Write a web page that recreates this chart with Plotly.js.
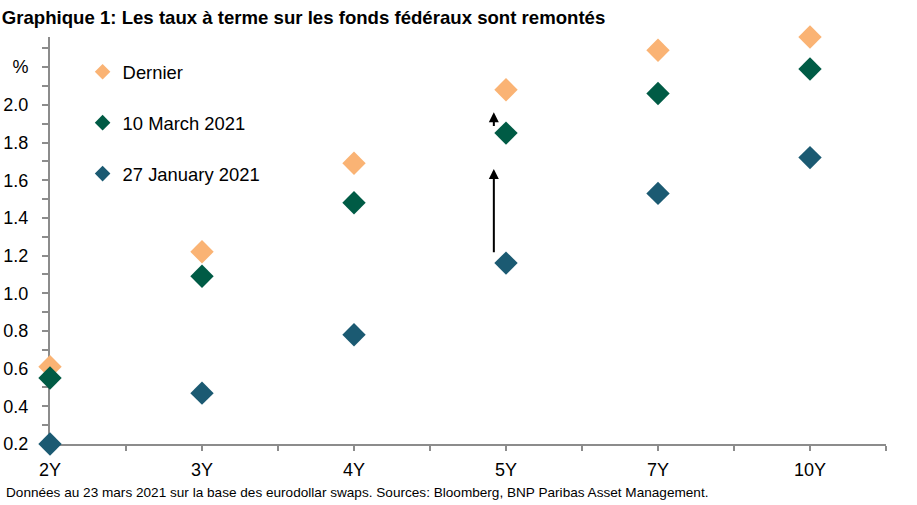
<!DOCTYPE html>
<html><head><meta charset="utf-8">
<script src="https://cdn.plot.ly/plotly-3.0.1.min.js"></script>
<style>body{margin:0;background:#fff;} #chart{width:917px;height:505px;}</style>
</head><body><div id="chart"></div>
<script>
const categories = ["2Y", "3Y", "4Y", "5Y", "7Y", "10Y"];
const seriesNames = ["Dernier", "10 March 2021", "27 January 2021"];
const dernier = [0.61, 1.22, 1.69, 2.08, 2.29, 2.36];
const march10 = [0.55, 1.09, 1.48, 1.85, 2.06, 2.19];
const jan27 = [0.20, 0.47, 0.78, 1.16, 1.53, 1.72];
const yTickVals = [0.2,0.3,0.4,0.5,0.6,0.7,0.8,0.9,1.0,1.1,1.2,1.3,1.4,1.5,1.6,1.7,1.8,1.9,2.0,2.1,2.2,2.3];
const yTickText = ["0.2","","0.4","","0.6","","0.8","","1.0","","1.2","","1.4","","1.6","","1.8","","2.0","","%",""];
const arrowX = [2.92, 2.92];
const arrowFrom = [1.21, 1.88];
const arrowTo = [1.66, 1.96];
const footnote = "Données au 23 mars 2021 sur la base des eurodollar swaps. Sources: Bloomberg, BNP Paribas Asset Management.";
const titleText = "Graphique 1: Les taux à terme sur les fonds fédéraux sont remontés";

const colors = ["#FAB374", "#005B45", "#1B5A72"];
const FONT = "'Liberation Sans', Arial, sans-serif";
const xIdx = categories.map((c, i) => i);
const xTickVals = [], xTickText = [];
categories.forEach((c, i) => { xTickVals.push(i); xTickText.push(c); xTickVals.push(i + 0.5); xTickText.push(""); });

const data = [dernier, march10, jan27].map((vals, k) => ({
  type: "scatter", mode: "markers", x: xIdx, y: vals, name: seriesNames[k],
  legendgroup: "g" + k, cliponaxis: false,
  marker: { symbol: "diamond", size: 18, color: colors[k], line: { width: 0 } },
  hoverinfo: "skip"
}));

const annotations = arrowX.map((ax, i) => ({
  x: ax, y: arrowTo[i], ax: ax, ay: arrowFrom[i], xref: "x", yref: "y", axref: "x", ayref: "y",
  showarrow: true, arrowhead: 2, arrowsize: 1, arrowwidth: 2, arrowcolor: "#000", text: "", standoff: 0, startstandoff: 0
}));
annotations.push({
  text: footnote, xref: "paper", yref: "paper", x: 0, y: -0.12, xshift: -46, xanchor: "left", yanchor: "middle",
  showarrow: false, font: { family: FONT, size: 13.6, color: "#000" }
});

const axisColor = "#8C8C8C";
const layout = {
  width: 917, height: 505,
  margin: { l: 50, r: 31, t: 37, b: 61 },
  paper_bgcolor: "#fff", plot_bgcolor: "#fff",
  font: { family: FONT, size: 18, color: "#000" },
  title: { text: "<b>" + titleText + "</b>", x: 0.002, xref: "container", xanchor: "left", y: 1 - 17 / 505, yref: "container", yanchor: "middle",
    font: { family: FONT, size: 18.6, color: "#000" } },
  showlegend: true,
  legend: { x: 0.039, y: 0.96, xanchor: "left", yanchor: "top", bgcolor: "rgba(0,0,0,0)", itemsizing: "constant", tracegroupgap: 24,
    font: { family: FONT, size: 18.4, color: "#000" } },
  xaxis: { range: [0, 5.5], showline: true, linecolor: axisColor, linewidth: 2, ticks: "outside", ticklen: 5, tickwidth: 2, tickcolor: axisColor,
    tickmode: "array", tickvals: xTickVals, ticktext: xTickText, showgrid: false, zeroline: false, fixedrange: true, ticklabelstandoff: 3,
    layer: "below traces", tickfont: { family: FONT, size: 18, color: "#000" } },
  yaxis: { range: [0.2, 2.36], showline: true, linecolor: axisColor, linewidth: 2, ticks: "outside", ticklen: 6, tickwidth: 2, tickcolor: axisColor,
    tickmode: "array", tickvals: yTickVals, ticktext: yTickText, showgrid: false, zeroline: false, fixedrange: true, ticklabelstandoff: 10,
    layer: "below traces", tickfont: { family: FONT, size: 18, color: "#000" } },
  annotations: annotations
};
Plotly.newPlot("chart", data, layout, { staticPlot: true });
</script></body></html>
